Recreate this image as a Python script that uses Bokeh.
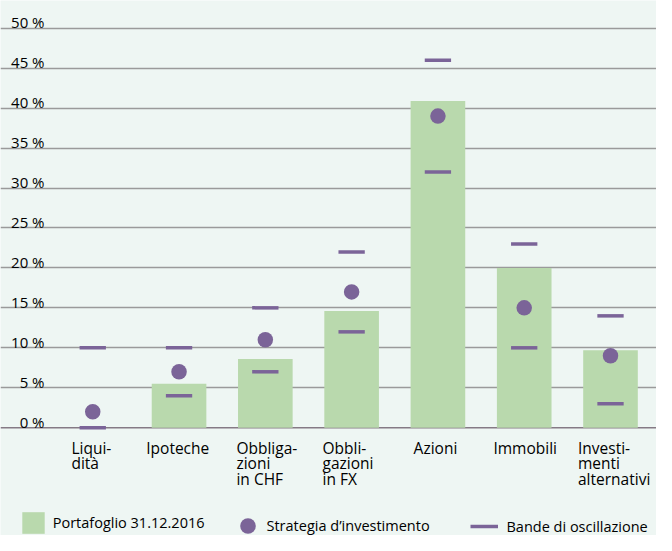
import numpy as np
from bokeh.plotting import figure
from bokeh.models import (ColumnDataSource, Range1d, Grid, FixedTicker, Span,
                          Legend, LegendItem)
from bokeh.core.properties import value
from bokeh.embed import file_html
from bokeh.resources import INLINE

# ---------------- data ----------------
categories = ["Liqui-\ndità", "Ipoteche", "Obbliga-\nzioni\nin CHF",
              "Obbli-\ngazioni\nin FX", "Azioni", "Immobili",
              "Investi-\nmenti\nalternativi"]
portafoglio = [0.0, 5.5, 8.6, 14.6, 40.9, 20.0, 9.7]
strategia = [2.0, 7.0, 11.0, 17.0, 39.0, 15.0, 9.0]
banda_min = [0.0, 4.0, 7.0, 12.0, 32.0, 10.0, 3.0]
banda_max = [10.0, 10.0, 15.0, 22.0, 46.0, 23.0, 14.0]
y_ticks = [0, 5, 10, 15, 20, 25, 30, 35, 40, 45, 50]
y_tick_labels = ["0 %", "5 %", "10 %", "15 %", "20 %", "25 %", "30 %",
                 "35 %", "40 %", "45 %", "50 %"]

# ---------------- style ----------------
BG = "#EEF6F3"
GREEN = "#B9D9AD"
PURPLE = "#7B6498"
GRID = "#9a9a9a"
BASE = "#857a85"
TEXT = "#000000"
FONT = "Open Sans"
label_dx = [-21.3, -32.8, -28.9, -29.1, -24.3, -30.8, -32.5]  # px offsets of label blocks
BAR_W = 0.633
BAND_W = 0.305

W, H = 656, 535
x_start, x_end = -1.069, 6.533
y_start, y_end = -13.49, 53.47

p = figure(width=W, height=H, output_backend="svg", toolbar_location=None,
           x_range=Range1d(x_start, x_end), y_range=Range1d(y_start, y_end),
           x_axis_location=None, y_axis_location=None,
           min_border=0, min_border_left=0, min_border_right=0,
           min_border_top=0, min_border_bottom=0,
           background_fill_color=BG, border_fill_color=BG, outline_line_color=None)
p.grid.visible = False

grid = Grid(dimension=1, ticker=FixedTicker(ticks=y_ticks[1:]),
            grid_line_color=GRID, grid_line_width=1.5)
p.add_layout(grid, "center")
p.add_layout(Span(location=0, dimension="width", line_color=BASE,
                  line_width=1.5, level="underlay"))

idx = list(range(len(categories)))
src = ColumnDataSource(dict(idx=idx, cat=categories, portafoglio=portafoglio,
                            strategia=strategia, dx=label_dx,
                            ylab=[0.0] * len(idx)))

bars = p.vbar(x="idx", top="portafoglio", bottom=0, width=BAR_W, source=src,
              fill_color=GREEN, line_color=None)

band_x = np.array(idx + idx, dtype=float)
band_src = ColumnDataSource(dict(x0=band_x - BAND_W / 2, x1=band_x + BAND_W / 2,
                                 y=banda_min + banda_max))
bands = p.segment(x0="x0", y0="y", x1="x1", y1="y", source=band_src,
                  line_color=PURPLE, line_width=3.5, line_cap="butt")

dots = p.scatter(x="idx", y="strategia", source=src, marker="circle", size=15.5,
                 fill_color=PURPLE, line_color=None)

# category labels
p.text(x="idx", y="ylab", text="cat", source=src, x_offset="dx", y_offset=9,
       text_align="left", text_baseline="top", text_font=value(FONT),
       text_font_size="15.5px", text_color=TEXT, text_line_height=0.7)

# y tick labels
tick_src = ColumnDataSource(dict(x=[x_start] * len(y_ticks), y=y_ticks,
                                 t=y_tick_labels))
p.text(x="x", y="y", text="t", source=tick_src, x_offset=44, y_offset=-6,
       text_align="right", text_baseline="alphabetic", text_font=value(FONT),
       text_font_size="15px", text_color=TEXT)

def make_legend(label, renderer, loc, gw, gh, standoff):
    lg = Legend(items=[LegendItem(label=label, renderers=[renderer])],
                location=loc, glyph_width=gw, glyph_height=gh,
                label_standoff=standoff, padding=0, margin=0, spacing=0,
                border_line_color=None, background_fill_alpha=0,
                label_text_font=FONT, label_text_font_size="14.5px",
                label_text_color=TEXT, orientation="horizontal")
    p.add_layout(lg, "center")

make_legend("Portafoglio 31.12.2016", bars, (18.7, -1.3), 28, 27, 6)
make_legend("Strategia d\u2019investimento", dots, (227.5, -9.8), 39, 39, -4)
make_legend("Bande di oscillazione", bands, (469.5, -1.0), 28, 20, 9)

open("out.html", "w").write(file_html(p, INLINE))
